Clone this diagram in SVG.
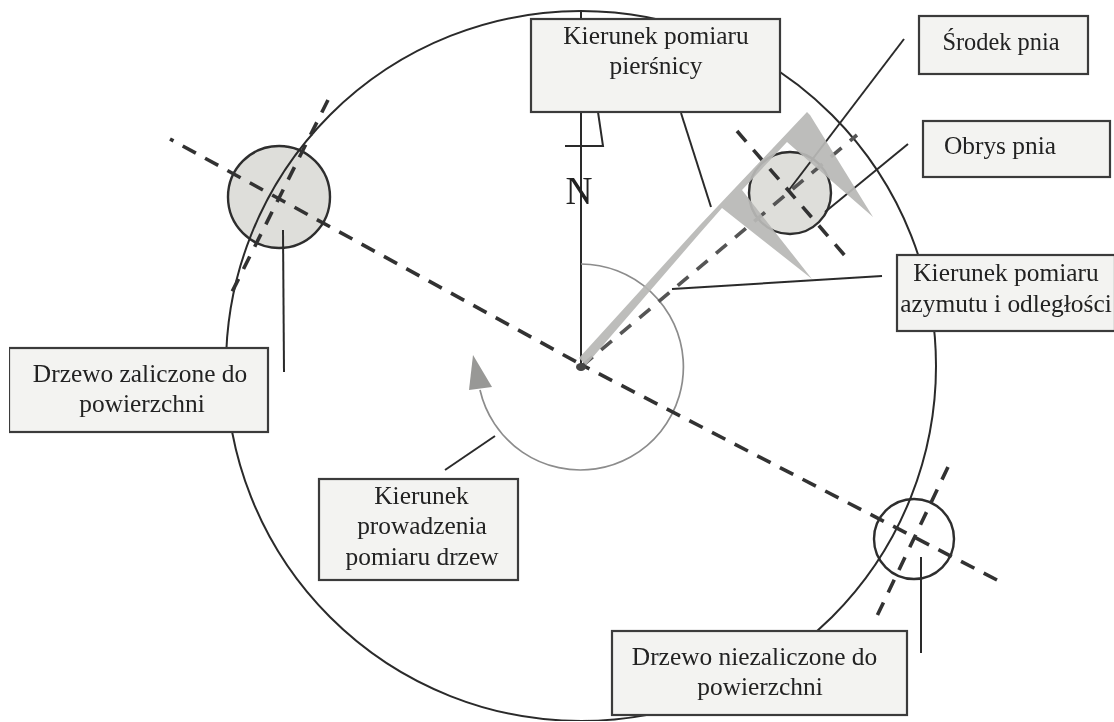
<svg xmlns="http://www.w3.org/2000/svg" width="1114" height="722" viewBox="0 0 1114 722">
<defs><filter id="soft" x="0" y="0" width="100%" height="100%"><feGaussianBlur stdDeviation="0.45"/></filter></defs>
<style>
.thin{fill:none;stroke:#2a2a2a;stroke-width:2}
.dash{fill:none;stroke:#333;stroke-width:3.6;stroke-dasharray:14 11}
.tree{fill:#dededa;stroke:#2e2e2e;stroke-width:2.4}
.open{fill:none;stroke:#2e2e2e;stroke-width:2.4}
.box{fill:#f3f3f1;stroke:#3a3a3a;stroke-width:2.2}
.gauge{fill:#b8b8b6;fill-opacity:.93}
text{font-family:"Liberation Serif","Times New Roman",serif;font-size:25.4px;fill:#222;text-anchor:middle}
</style>
<rect width="1114" height="722" fill="#fff"/>
<g filter="url(#soft)">
<g id="tree-left"><circle cx="279" cy="197" r="51" class="tree"/></g>
<g id="tree-right"><circle cx="914" cy="539" r="40" class="open"/></g>
<g id="tree-measured"><circle cx="790" cy="193" r="41" class="tree"/></g>
<g id="connectors">
<circle cx="581" cy="366" r="355" class="thin"/>
<path class="thin" d="M581 10V366"/>
<path class="thin" d="M598 112L603 146H565"/>
<path class="thin" d="M681 113L711 207"/>
<path class="thin" d="M904 39L789 190"/>
<path class="thin" d="M908 144L825 212"/>
<path class="thin" d="M882 276L672 289"/>
<path class="thin" d="M445 470L495 436"/>
<path class="thin" d="M283 230L284 372"/>
<path class="thin" d="M921 557V653"/>
<path d="M581 264A103 103 0 1 1 480 390" fill="none" stroke="#8c8c8c" stroke-width="1.7"/>
<polygon points="473,355 469,390 492,387" fill="#989896"/>
<path class="dash" d="M170 139L582 365" style="stroke-dasharray:15 10.500;stroke-dashoffset:11"/>
<path class="dash" d="M582 365L997 580" style="stroke-dasharray:15 10.500;stroke-dashoffset:6.600"/>
<path class="dash" style="stroke:#555" d="M582 366L857 135"/>
<path class="dash" d="M737 131L846 257"/>
<path class="dash" d="M328 100L232 292"/>
<path class="dash" d="M948 467L877 616"/>
<ellipse cx="581" cy="367" rx="5" ry="4" fill="#444"/>
</g>
<g id="caliper">
<polygon class="gauge" points="579,358 700,225 807,112 810,115 873,217 787,142 742,190 812,279 722,208 700,233 586,365"/>
</g>
<g id="label-pierscnica"><rect class="box" x="531" y="19" width="249" height="93"/><text x="656" y="44">Kierunek pomiaru</text><text x="656" y="74">pierśnicy</text></g>
<g id="label-srodek"><rect class="box" x="919" y="16" width="169" height="58"/><text x="1001" y="50" style="font-size:24.4px">Środek pnia</text></g>
<g id="label-obrys"><rect class="box" x="923" y="121" width="187" height="56"/><text x="1000" y="154">Obrys pnia</text></g>
<g id="label-azymut"><rect class="box" x="897" y="255" width="218" height="76"/><text x="1006" y="281">Kierunek pomiaru</text><text x="1006" y="312">azymutu i odległości</text></g>
<g id="label-zaliczone"><rect class="box" x="9" y="348" width="259" height="84"/><text x="140" y="382">Drzewo zaliczone do</text><text x="142" y="412">powierzchni</text></g>
<g id="label-kierunek"><rect class="box" x="319" y="479" width="199" height="101"/><text x="421.500" y="504">Kierunek</text><text x="422" y="534">prowadzenia</text><text x="422" y="565">pomiaru drzew</text></g>
<g id="label-niezaliczone"><rect class="box" x="612" y="631" width="295" height="84"/><text x="754.500" y="665">Drzewo niezaliczone do</text><text x="760" y="695">powierzchni</text></g>
<text id="north" x="579" y="204" style="font-size:40px" textLength="27" lengthAdjust="spacingAndGlyphs">N</text>
</g>
</svg>
